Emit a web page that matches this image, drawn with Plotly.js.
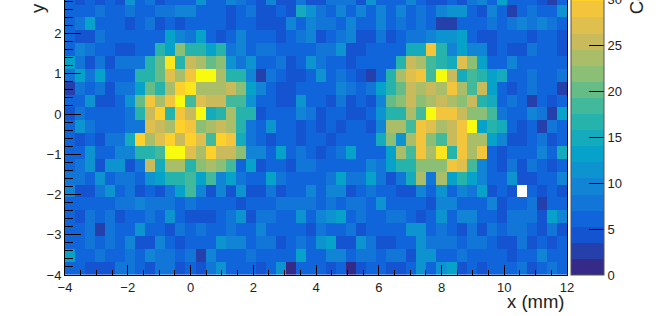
<!DOCTYPE html>
<html><head><meta charset="utf-8">
<script src="https://cdn.plot.ly/plotly-3.0.1.min.js"></script>
<style>html,body{margin:0;padding:0;background:#fff;overflow:hidden;width:659px;height:316px}#c{position:absolute;left:0;top:-47px;width:659px;height:363px}</style>
</head><body><div id="c"></div><script>
// counts per cell, bottom row (y = -4) first, 50 columns each
const row00=[6,6,4,4,4,8,8,6,4,8,8,4,6,4,8,11,6,6,6,4,6,11,1,6,6,6,4,6,1,4,6,6,4,4,6,11,6,11,13,4,6,4,6,6,6,8,4,6,8,6];
const row01=[13,6,6,8,6,6,8,6,9,8,8,6,8,3,9,6,6,6,8,6,6,6,6,13,6,6,9,9,6,8,8,6,8,8,4,11,11,6,6,8,6,6,6,6,4,6,6,9,6,6];
const row02=[6,6,8,6,8,6,9,4,4,9,6,4,6,6,6,11,9,9,6,8,8,4,6,8,6,11,13,4,4,11,8,4,4,6,6,11,8,8,8,6,8,8,6,4,4,8,4,6,4,6];
const row03=[6,6,8,3,8,6,6,11,6,6,4,8,6,8,6,6,8,6,6,9,6,6,6,6,4,8,6,6,8,4,6,6,6,6,11,11,6,8,6,4,8,4,8,6,8,8,6,4,8,4];
const row04=[6,4,8,6,8,4,6,6,8,6,11,6,5,5,5,6,8,11,4,8,8,6,6,11,6,9,11,13,6,8,6,6,8,8,6,4,6,11,6,9,9,6,6,4,8,8,8,4,13,9];
const row05=[6,6,6,6,6,8,8,9,8,8,8,6,8,6,6,6,6,4,6,6,6,8,8,8,8,6,8,6,8,8,6,11,6,6,6,6,4,9,9,6,6,6,9,4,6,6,8,3,6,6];
const row06=[9,5,5,8,11,6,8,4,6,5,8,13,18,9,4,9,4,11,4,4,8,4,6,6,9,6,9,9,4,6,8,6,6,4,4,9,6,11,6,9,8,13,4,6,4,null,6,4,6,4];
const row07=[8,8,6,11,6,8,8,6,11,13,16,16,18,13,18,9,13,8,6,6,13,8,6,6,6,6,8,13,8,8,13,8,4,8,14,24,8,24,13,16,13,9,6,6,11,4,4,6,6,9];
const row08=[6,8,11,4,11,11,4,8,26,14,24,23,16,22,24,22,18,6,13,4,6,6,4,8,8,6,6,6,6,6,9,8,13,16,16,22,22,22,29,27,18,9,6,4,8,4,8,6,4,6];
const row09=[6,6,11,6,6,9,9,16,16,18,34,34,27,23,31,25,25,22,9,9,6,13,6,8,6,4,6,8,13,6,6,6,13,23,18,29,23,32,16,29,24,29,6,4,6,6,6,9,6,14];
const row10=[6,4,6,4,8,8,14,31,23,27,31,25,31,27,18,31,29,14,8,6,4,6,6,4,6,6,4,6,6,6,6,14,22,11,24,29,22,18,25,29,23,23,13,9,4,4,6,8,4,6];
const row11=[6,11,8,6,6,6,8,8,27,25,23,31,29,22,24,26,23,16,8,6,11,6,6,4,6,4,6,4,6,6,4,9,24,23,18,29,27,23,25,29,34,13,16,14,6,4,6,3,8,6];
const row12=[4,8,6,6,6,6,8,16,26,31,16,29,25,34,14,16,23,16,16,4,6,6,6,9,8,4,6,6,4,4,6,11,16,16,23,18,34,29,29,25,22,22,18,8,6,6,9,8,3,13];
const row13=[6,6,11,4,4,6,11,20,29,24,29,34,18,27,26,26,18,18,11,6,6,4,4,11,6,6,4,8,4,6,4,9,20,22,25,22,23,25,23,22,25,16,14,6,8,6,3,6,4,6];
const row14=[3,8,6,8,4,8,8,13,20,16,23,31,32,24,23,23,26,22,13,9,6,4,4,6,6,6,6,9,8,6,8,13,16,20,26,23,25,23,29,23,18,25,13,6,4,6,8,6,6,3];
const row15=[8,13,8,13,6,6,6,16,16,20,27,23,29,34,34,23,16,16,9,3,8,6,4,4,6,11,6,8,6,4,3,6,16,23,27,29,18,34,25,14,18,16,13,14,6,6,8,6,6,8];
const row16=[13,8,4,8,4,8,8,8,16,20,32,16,26,24,20,22,11,8,11,6,6,8,4,6,11,8,6,6,4,6,6,6,6,16,26,23,18,16,14,27,22,13,6,6,9,6,6,6,6,6];
const row17=[6,9,8,6,6,4,4,6,6,16,13,22,16,16,13,16,8,9,6,8,8,6,6,6,6,8,8,11,4,4,6,6,6,6,14,14,29,16,9,13,9,9,4,6,4,4,8,6,6,4];
const row18=[6,4,4,8,6,6,6,6,6,6,13,9,8,13,6,4,6,9,6,6,6,4,6,8,9,4,6,8,9,4,4,8,4,6,8,8,9,11,11,13,6,4,4,6,6,6,4,6,6,4];
const row19=[6,8,13,6,6,6,4,6,8,4,6,4,6,6,6,6,4,6,6,4,4,4,9,6,9,8,8,6,9,6,6,9,6,8,6,8,6,3,3,6,6,6,8,6,8,9,8,9,8,6];
const row20=[6,6,6,8,6,6,8,6,6,8,8,9,9,6,6,6,4,6,8,4,4,6,4,14,11,8,6,9,6,9,6,9,6,9,6,8,6,9,11,11,6,4,9,6,3,6,8,6,6,11];
const row21=[6,4,6,4,6,4,11,6,8,4,6,6,6,11,6,6,9,8,6,5,9,5,5,8,5,4,8,8,8,4,11,6,6,6,9,6,4,4,6,4,8,9,6,13,6,6,6,4,3,6];
const counts=[row00,row01,row02,row03,row04,row05,row06,row07,row08,row09,row10,row11,row12,row13,row14,row15,row16,row17,row18,row19,row20,row21];
const binStart=-4, binWidth=0.32, zMax=35, bands=20;
// ROOT kBird palette stops
const birdR=[0.2082,0.0592,0.0780,0.0232,0.1802,0.5301,0.8186,0.9956,0.9764];
const birdG=[0.1664,0.3599,0.5041,0.6419,0.7178,0.7492,0.7328,0.7862,0.9832];
const birdB=[0.5293,0.8684,0.8385,0.7914,0.6425,0.4662,0.3499,0.1968,0.0539];
function bird(t){const p=t*8,i=Math.min(7,Math.floor(p)),f=p-i;
  const m=a=>Math.round(255*(a[i]+(a[i+1]-a[i])*f));
  return `rgb(${m(birdR)},${m(birdG)},${m(birdB)})`;}
const colorscale=[];
for(let i=0;i<bands;i++){const c=bird(i/(bands-1));colorscale.push([i/bands,c],[(i+1)/bands,c]);}
const font='"Liberation Sans",Arial,sans-serif';
const tickfont={family:font,size:13,color:'#222'};
const titlefont={family:font,size:18.5,color:'#222'};
Plotly.newPlot('c',[{type:'heatmap',z:counts,x0:binStart+binWidth/2,dx:binWidth,y0:binStart+binWidth/2,dy:binWidth,
  zmin:0,zmax:zMax,colorscale:colorscale,zsmooth:false,hoverongaps:false,
  colorbar:{thickness:33,thicknessmode:'pixels',len:1,lenmode:'fraction',x:1.008,xanchor:'left',xpad:0,y:0,yanchor:'bottom',ypad:0,
    tick0:0,dtick:5,ticks:'inside',ticklen:15,tickwidth:1,tickcolor:'#000',tickfont:tickfont,outlinewidth:1,outlinecolor:'#555'}}],
 {width:659,height:363,margin:{l:65,r:92,t:0,b:41,pad:0},paper_bgcolor:'#fff',plot_bgcolor:'#fff',showlegend:false,
  xaxis:{range:[-4,12],tick0:-4,dtick:2,ticks:'inside',ticklen:10,tickwidth:1,tickcolor:'#000',showgrid:false,zeroline:false,
    showline:true,mirror:true,linecolor:'#000',linewidth:1,tickfont:tickfont,
    minor:{dtick:0.5,ticks:'inside',ticklen:5,tickwidth:1,tickcolor:'#000',showgrid:false}},
  yaxis:{range:[-4,4],tick0:-4,dtick:1,ticks:'inside',ticklen:16,tickwidth:1,tickcolor:'#000',showgrid:false,zeroline:false,
    showline:true,mirror:true,linecolor:'#000',linewidth:1,tickfont:tickfont,
    minor:{dtick:0.2,ticks:'inside',ticklen:8,tickwidth:1,tickcolor:'#000',showgrid:false}},
  annotations:[
   {text:'x (mm)',xref:'paper',yref:'paper',x:1,y:-0.081,xanchor:'right',yanchor:'middle',showarrow:false,font:titlefont},
   {text:'y (mm)',xref:'paper',yref:'paper',x:-0.0558,y:1,xanchor:'center',yanchor:'top',textangle:-90,showarrow:false,font:titlefont},
   {text:'Counts',xref:'paper',yref:'paper',x:1.139,y:1,xanchor:'center',yanchor:'top',textangle:-90,showarrow:false,font:titlefont}
  ]},{displayModeBar:false,staticPlot:true});
</script></body></html>
